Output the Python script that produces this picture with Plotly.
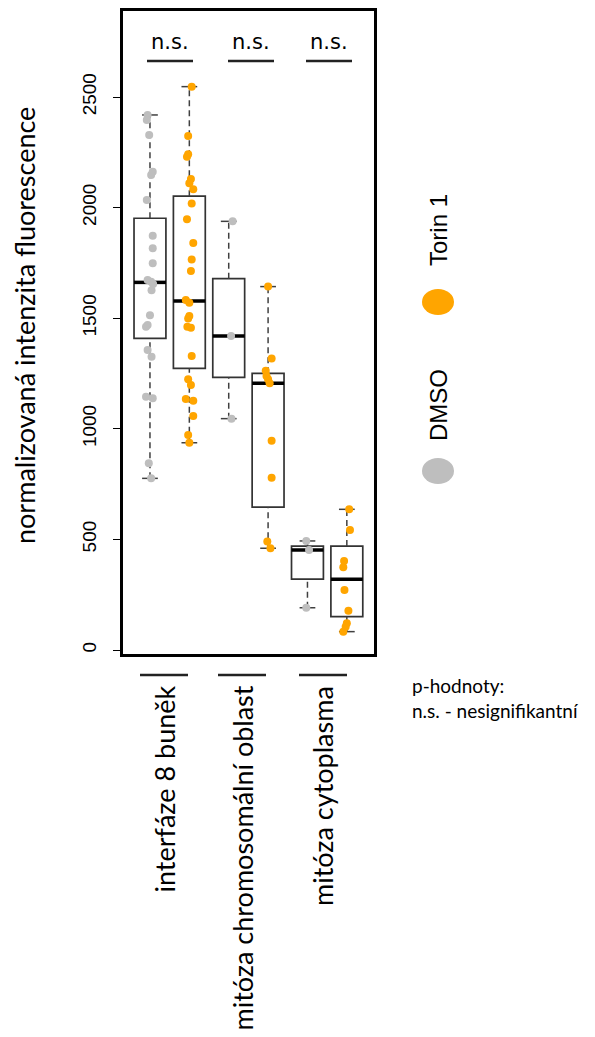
import plotly.graph_objects as go

# ---------------- data ----------------
categories = ["interfáze 8 buněk", "mitóza chromosomální oblast", "mitóza cytoplasma"]
groups = ["DMSO", "Torin 1"]
positions = [1, 2, 3, 4, 5, 6]
box_group = ["DMSO", "Torin 1", "DMSO", "Torin 1", "DMSO", "Torin 1"]

lower_whisker = [776, 937, 1046, 460, 191, 83]
q1 = [1409, 1273, 1233, 646, 320, 151]
median = [1662, 1578, 1420, 1206, 452, 320]
q3 = [1952, 2052, 1679, 1251, 470, 470]
upper_whisker = [2419, 2547, 1938, 1643, 493, 636]

dmso_interfaze = [2419, 2396, 2328, 2162, 2147, 2034, 1873, 1816, 1748, 1673, 1665,
                  1655, 1627, 1514, 1469, 1462, 1356, 1326, 1145, 1138, 844, 776]
dmso_interfaze_jit = [-0.06, -0.08, -0.02, 0.07, 0.03, -0.08, 0.07, 0.07, 0.07, -0.06, 0.03,
                      0.08, 0.04, 0.0, -0.06, -0.10, -0.06, 0.04, -0.10, 0.07, -0.03, 0.03]
torin_interfaze = [2547, 2324, 2241, 2230, 2129, 2110, 2083, 2019, 1948, 1840, 1766, 1713, 1582,
                   1570, 1510, 1499, 1462, 1457, 1329, 1224, 1198, 1135, 1127, 1058, 972, 937]
torin_interfaze_jit = [0.06, -0.03, -0.03, -0.06, 0.04, 0.0, 0.10, 0.06, -0.06, 0.10, 0.06, 0.04, -0.09,
                       0.0, 0.0, -0.03, -0.05, 0.04, 0.06, -0.03, 0.04, -0.09, 0.10, 0.10, -0.03, 0.0]
dmso_chrom = [1938, 1420, 1046]
dmso_chrom_jit = [0.10, 0.06, 0.07]
torin_chrom = [1643, 1318, 1263, 1239, 1224, 1206, 946, 779, 490, 460]
torin_chrom_jit = [0.0, 0.09, -0.06, -0.04, 0.0, 0.04, 0.09, 0.09, -0.02, 0.06]
dmso_cyto = [493, 452, 191]
dmso_cyto_jit = [-0.03, 0.04, -0.03]
torin_cyto = [636, 542, 402, 374, 271, 178, 121, 105, 83]
torin_cyto_jit = [0.06, 0.08, -0.07, -0.09, -0.06, 0.04, 0.0, -0.03, -0.09]

point_sets = [
    (1, dmso_interfaze, dmso_interfaze_jit, "DMSO"),
    (2, torin_interfaze, torin_interfaze_jit, "Torin 1"),
    (3, dmso_chrom, dmso_chrom_jit, "DMSO"),
    (4, torin_chrom, torin_chrom_jit, "Torin 1"),
    (5, dmso_cyto, dmso_cyto_jit, "DMSO"),
    (6, torin_cyto, torin_cyto_jit, "Torin 1"),
]

y_ticks = [0, 500, 1000, 1500, 2000, 2500]
significance = ["n.s.", "n.s.", "n.s."]
y_title = "normalizovaná intenzita fluorescence"
note_lines = ["p-hodnoty:", "n.s. - nesignifikantní"]

colors = {"DMSO": "#BEBEBE", "Torin 1": "#FFA500"}

# ---------------- layout geometry ----------------
PAGE_OFF = 8            # default page body margin
W, H = 595 - PAGE_OFF, 1037 - PAGE_OFF
L, T = 115, 3
PW, PH = 251, 643
X_RANGE = [0.315, 6.69]
Y_RANGE = [-18.1, 2889]
BOX_W = 0.81
CAP_HALF = 0.2


def px_x(px):
    return (px - PAGE_OFF - L) / PW


def px_y(py):
    return (T + PH - (py - PAGE_OFF)) / PH


fig = go.Figure()

# whiskers (dashed)
wx, wy = [], []
for p, lo, a, b, hi in zip(positions, lower_whisker, q1, q3, upper_whisker):
    wx += [p, p, None, p, p, None]
    wy += [lo, a, None, b, hi, None]
fig.add_trace(go.Scatter(x=wx, y=wy, mode="lines", hoverinfo="skip", showlegend=False,
                         line=dict(color="#404040", width=1.5, dash="6px,4px")))
# caps
cx, cy = [], []
for p, lo, hi in zip(positions, lower_whisker, upper_whisker):
    cx += [p - CAP_HALF, p + CAP_HALF, None, p - CAP_HALF, p + CAP_HALF, None]
    cy += [lo, lo, None, hi, hi, None]
fig.add_trace(go.Scatter(x=cx, y=cy, mode="lines", hoverinfo="skip", showlegend=False,
                         line=dict(color="#404040", width=1.5)))

# boxes
fig.add_trace(go.Box(x=positions, q1=q1, median=median, q3=q3,
                     lowerfence=q1, upperfence=q3, width=BOX_W,
                     fillcolor="white", line=dict(color="#333333", width=1.7),
                     whiskerwidth=0, boxpoints=False, showlegend=False, hoverinfo="skip"))
# thick medians
mx, my = [], []
for p, m in zip(positions, median):
    mx += [p - BOX_W / 2, p + BOX_W / 2, None]
    my += [m, m, None]
fig.add_trace(go.Scatter(x=mx, y=my, mode="lines", hoverinfo="skip", showlegend=False,
                         line=dict(color="black", width=3.5)))

# points
for p, vals, jit, g in point_sets:
    fig.add_trace(go.Scatter(x=[p + j for j in jit], y=vals, mode="markers", showlegend=False,
                             marker=dict(color=colors[g], size=8, line=dict(width=0)),
                             name=g))

shapes = []
annotations = []

# significance labels and lines
ns_centers = [170, 251, 329]
for c, s in zip(ns_centers, significance):
    annotations.append(dict(x=px_x(c), y=px_y(42), xref="paper", yref="paper", text=s,
                            showarrow=False, xanchor="center", yanchor="middle",
                            font=dict(family="DejaVu Sans", size=21, color="black")))
    shapes.append(dict(type="line", xref="paper", yref="paper", x0=px_x(c - 23), x1=px_x(c + 23),
                       y0=px_y(61), y1=px_y(61), line=dict(color="#222222", width=2.5)))

# category labels under plot
cat_centers = [164, 242, 323]
for c, lab in zip(cat_centers, categories):
    shapes.append(dict(type="line", xref="paper", yref="paper", x0=px_x(c - 24), x1=px_x(c + 24),
                       y0=px_y(675), y1=px_y(675), line=dict(color="#222222", width=2.5)))
    annotations.append(dict(x=px_x(c), y=px_y(684), xref="paper", yref="paper", text=lab,
                            showarrow=False, xanchor="center", yanchor="top", textangle=-90,
                            font=dict(family="Lato", size=27, color="black")))

# y-axis title
annotations.append(dict(x=px_x(25), y=px_y(326), xref="paper", yref="paper", text=y_title,
                        showarrow=False, xanchor="center", yanchor="middle", textangle=-90,
                        font=dict(family="Lato", size=27, color="black")))

# legend
legend_items = [("Torin 1", 302, 230), ("DMSO", 471, 405)]
for g, cy_, ty in legend_items:
    shapes.append(dict(type="circle", xref="paper", yref="paper",
                       x0=px_x(422), x1=px_x(454), y0=px_y(cy_ - 13), y1=px_y(cy_ + 13),
                       fillcolor=colors[g], line=dict(width=0)))
    annotations.append(dict(x=px_x(438), y=px_y(ty), xref="paper", yref="paper", text=g,
                            showarrow=False, xanchor="center", yanchor="middle", textangle=-90,
                            font=dict(family="Liberation Sans", size=24, color="black")))

# note text
annotations.append(dict(x=px_x(410), y=px_y(672), xref="paper", yref="paper",
                        text=note_lines[0] + "<br>" + note_lines[1], align="left",
                        showarrow=False, xanchor="left", yanchor="top",
                        font=dict(family="Lato", size=19, color="black")))

fig.update_layout(
    width=W, height=H,
    margin=dict(l=L, r=W - L - PW, t=T, b=H - T - PH, pad=0),
    plot_bgcolor="white", paper_bgcolor="white",
    shapes=shapes, annotations=annotations, showlegend=False,
    xaxis=dict(range=X_RANGE, showgrid=False, zeroline=False, showticklabels=False, ticks="",
               showline=True, mirror=True, linecolor="black", linewidth=3, automargin=False),
    yaxis=dict(range=Y_RANGE, showgrid=False, zeroline=False, tickvals=y_ticks,
               ticktext=[str(v) for v in y_ticks], ticks="outside", ticklen=7, tickwidth=1.3,
               tickcolor="black", tickangle=-90, ticklabelstandoff=9,
               tickfont=dict(family="Liberation Sans", size=19, color="black"),
               showline=True, mirror=True, linecolor="black", linewidth=3, automargin=False),
)

fig.write_html("out.html")
